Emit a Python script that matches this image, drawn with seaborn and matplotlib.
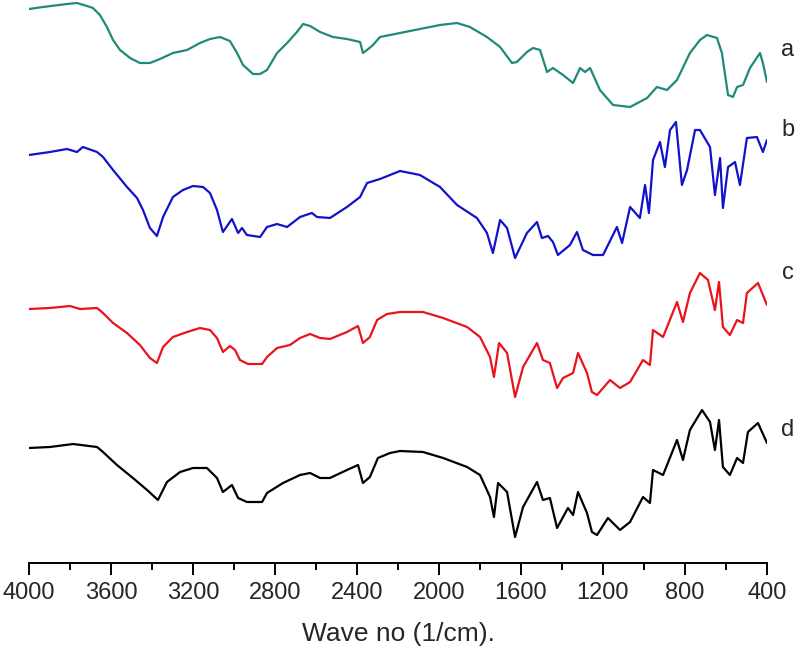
import numpy as np
import pandas as pd
import matplotlib
matplotlib.use("Agg")
import matplotlib.pyplot as plt
import seaborn as sns

# FTIR spectra (wavenumber in 1/cm, offset transmittance in arbitrary units)
wn_a = [4000, 3932, 3815, 3766, 3717, 3688, 3654, 3620, 3590, 3556, 3507, 3459, 3410, 3361, 3298, 3229,
        3166, 3117, 3068, 3020, 2985, 2956, 2907, 2873, 2839, 2790, 2741, 2693, 2663, 2629, 2580, 2517,
        2449, 2385, 2371, 2351, 2322, 2288, 2190, 2093, 1995, 1912, 1849, 1766, 1702, 1644, 1620, 1571,
        1541, 1507, 1473, 1444, 1395, 1346, 1312, 1288, 1263, 1215, 1151, 1068, 985, 937, 888, 839,
        776, 727, 693, 644, 620, 590, 566, 546, 517, 483, 434, 420, 400]
t_a = [554, 556, 559, 560, 557, 555, 548, 536, 523, 513, 505, 500, 500, 504, 510, 513,
       520, 524, 526, 522, 510, 498, 489, 489, 493, 510, 520, 531, 539, 537, 531, 526,
       524, 521, 510, 513, 518, 526, 530, 534, 538, 540, 536, 526, 516, 500, 501, 511,
       515, 513, 491, 495, 488, 480, 495, 491, 495, 473, 458, 456, 465, 476, 473, 483,
       510, 523, 528, 525, 510, 468, 466, 476, 478, 495, 510, 500, 481]

wn_b = [4000, 3898, 3815, 3766, 3737, 3668, 3639, 3590, 3522, 3473, 3444, 3410, 3376, 3346, 3298, 3249,
        3200, 3151, 3117, 3083, 3054, 3010, 2980, 2961, 2937, 2873, 2839, 2790, 2741, 2678, 2620, 2595,
        2532, 2449, 2385, 2351, 2288, 2190, 2093, 1995, 1912, 1815, 1766, 1737, 1702, 1668, 1629, 1571,
        1522, 1498, 1468, 1444, 1420, 1361, 1327, 1298, 1249, 1200, 1132, 1107, 1068, 1020, 995, 976,
        956, 922, 898, 873, 844, 815, 790, 751, 727, 678, 654, 629, 615, 590, 556, 532, 498, 449, 420, 400]
t_b = [408, 411, 414, 411, 416, 411, 406, 393, 376, 365, 353, 335, 327, 346, 366, 373,
       377, 376, 370, 353, 331, 344, 330, 335, 328, 326, 336, 339, 336, 346, 350, 346,
       345, 356, 366, 380, 384, 392, 388, 376, 358, 345, 330, 310, 343, 335, 305, 330,
       341, 325, 327, 321, 308, 318, 331, 313, 308, 308, 336, 320, 356, 345, 378, 350,
       403, 421, 396, 433, 441, 378, 393, 433, 433, 416, 368, 405, 355, 396, 401, 378, 425, 426, 411, 423]

wn_c = [4000, 3898, 3800, 3751, 3668, 3639, 3590, 3522, 3459, 3410, 3376, 3346, 3298, 3229, 3166, 3117,
        3083, 3054, 3020, 2995, 2971, 2932, 2863, 2839, 2790, 2727, 2678, 2629, 2580, 2532, 2449, 2395,
        2371, 2337, 2302, 2254, 2190, 2078, 1980, 1863, 1800, 1751, 1732, 1707, 1668, 1629, 1590, 1522,
        1493, 1459, 1424, 1395, 1346, 1322, 1278, 1254, 1229, 1166, 1117, 1068, 1005, 971, 956, 907,
        839, 810, 776, 727, 688, 654, 634, 615, 581, 546, 517, 498, 444, 400]
t_c = [254, 255, 257, 254, 255, 250, 240, 230, 218, 205, 200, 216, 226, 231, 235, 233,
       225, 211, 217, 213, 203, 199, 199, 206, 215, 218, 225, 229, 225, 224, 231, 237,
       220, 226, 243, 249, 251, 251, 245, 236, 226, 206, 186, 220, 210, 166, 196, 220,
       203, 200, 175, 185, 190, 210, 190, 171, 168, 183, 175, 181, 203, 198, 233, 226,
       261, 241, 270, 290, 283, 253, 281, 236, 228, 243, 240, 270, 280, 258]

wn_d = [4000, 3898, 3785, 3668, 3639, 3571, 3493, 3424, 3371, 3327, 3263, 3200, 3132, 3083, 3054, 3010,
        2980, 2937, 2863, 2839, 2761, 2678, 2629, 2580, 2532, 2449, 2395, 2371, 2337, 2298, 2239, 2190,
        2078, 1980, 1863, 1800, 1751, 1732, 1712, 1668, 1629, 1590, 1522, 1493, 1459, 1424, 1371, 1346,
        1322, 1278, 1254, 1229, 1176, 1117, 1068, 1005, 971, 956, 907, 839, 810, 776, 717, 678,
        654, 634, 615, 581, 546, 517, 493, 444, 400]
t_d = [115, 116, 119, 116, 111, 98, 85, 73, 63, 81, 91, 95, 95, 85, 71, 78,
       65, 61, 61, 70, 80, 88, 90, 85, 85, 93, 98, 80, 86, 105, 110, 112,
       111, 105, 96, 88, 66, 46, 80, 71, 26, 56, 81, 63, 65, 35, 55, 48,
       71, 50, 31, 28, 45, 33, 41, 66, 60, 93, 88, 123, 103, 133, 153, 141,
       113, 143, 96, 88, 105, 100, 131, 140, 120]

samples = ["a", "b", "c", "d"]
colors = ["#1f8a78", "#1212cc", "#e8141c", "#000000"]
label_y = [513, 433, 290, 133]

frames = []
for name, wn, t in zip(samples, [wn_a, wn_b, wn_c, wn_d], [t_a, t_b, t_c, t_d]):
    frames.append(pd.DataFrame({"Wavenumber": wn, "T": t, "Sample": name}))
df = pd.concat(frames, ignore_index=True)

sns.set_style("white")
plt.rcParams['font.family'] = ['Liberation Sans', 'DejaVu Sans']

fig = plt.figure(figsize=(7.99, 6.61), dpi=100)
ax = fig.add_axes([29 / 799, 98 / 661, 738 / 799, 563 / 661])

sns.lineplot(data=df, x="Wavenumber", y="T", hue="Sample", palette=colors,
             estimator=None, linewidth=1.6, legend=False, ax=ax)

ax.set_xlim(4000, 400)
ax.set_ylim(0, 563)
ax.set_xticks(np.arange(4000, 399, -400))
ax.set_xticks(np.arange(3800, 399, -400), minor=True)
ax.tick_params(axis="x", which="major", direction="out", length=8.6, width=1.4,
               labelsize=17, pad=5, bottom=True, color="black")
ax.tick_params(axis="x", which="minor", direction="out", length=5, width=1.4,
               bottom=True, color="black")
ax.set_yticks([])
ax.set_ylabel("")
sns.despine(ax=ax, left=True, top=True, right=True)
ax.spines["bottom"].set_linewidth(1.4)
ax.spines["bottom"].set_color("black")

ax.set_xlabel("Wave no (1/cm).", fontsize=19, va="center")
ax.xaxis.set_label_coords(0.5, -(634 - 563) / 563)

for name, y in zip(samples, label_y):
    ax.text(298, y, name, fontsize=17, ha="center", va="center", clip_on=False)

fig.savefig("out.png", dpi=100)
